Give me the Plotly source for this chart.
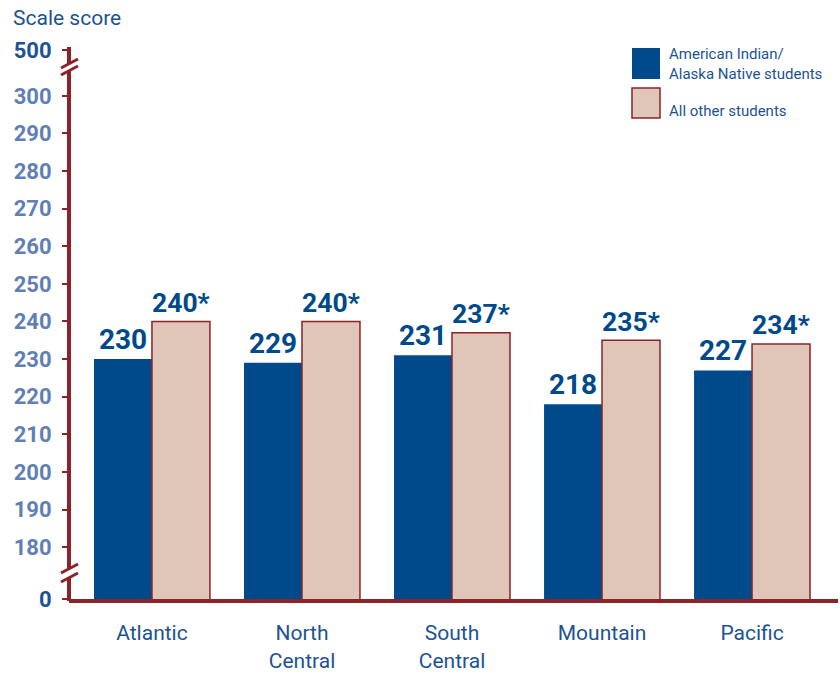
import plotly.graph_objects as go

# ---- data ----
regions = ["Atlantic", "North<br>Central", "South<br>Central", "Mountain", "Pacific"]
aian_scores = [230, 229, 231, 218, 227]
other_scores = [240, 240, 237, 235, 234]
other_significant = [True, True, True, True, True]
series_names = ["American Indian/<br>Alaska Native students", "All other students"]

# broken axis: display positions for the "0" and "500" labels
axis_bottom_display = 166.2
axis_top_display = 312.2
tick_vals = [axis_bottom_display] + list(range(180, 301, 10)) + [axis_top_display]
tick_text_vals = ["0"] + [str(v) for v in range(180, 301, 10)] + ["500"]

BLUE = "#004a8c"
BEIGE = "#e0c5b9"
RED = "#8b2328"
TEXTBLUE = "#1c5394"
LIGHTBLUE = "#5f7fb5"
FONT = "Roboto"

# geometry helpers (plot area in pixels)
L, R, T, B = 69, 838, 50, 599
W, H = R - L, B - T


def px(xp):
    return (xp - L) / W


def py(yp):
    return (B - yp) / H


tick_text = []
for t in tick_text_vals:
    c = TEXTBLUE if t in ("0", "500") else LIGHTBLUE
    tick_text.append(f"<span style='color:{c}'>{t}</span>")

fig = go.Figure()
fig.add_trace(go.Bar(
    x=regions, y=aian_scores, name=series_names[0],
    marker=dict(color=BLUE, line=dict(width=0)),
    text=[str(v) for v in aian_scores], textposition="outside",
    textfont=dict(family=FONT, size=28, color=BLUE, weight="bold"),
    cliponaxis=False, showlegend=False, hoverinfo="skip",
))
fig.add_trace(go.Bar(
    x=regions, y=other_scores, name=series_names[1],
    marker=dict(color=BEIGE, line=dict(width=1.5, color=RED)),
    text=[f"{v}{'*' if s else ''}" for v, s in zip(other_scores, other_significant)],
    textposition="outside",
    textfont=dict(family=FONT, size=28, color=BLUE, weight="bold"),
    cliponaxis=False, showlegend=False, hoverinfo="skip",
))

shapes = []
# y axis line with two breaks
ax_lw = 4
for y0, y1 in [(47, 64), (71, 568), (577, 601)]:
    shapes.append(dict(type="line", xref="paper", yref="paper",
                       x0=px(69), x1=px(69), y0=py(y0), y1=py(y1),
                       line=dict(color=RED, width=ax_lw)))
# break slashes
for (x0, y0, x1, y1) in [(61, 68, 78, 59), (61, 75, 78, 66),
                         (61, 573, 78, 564), (61, 582, 78, 573)]:
    shapes.append(dict(type="line", xref="paper", yref="paper",
                       x0=px(x0), x1=px(x1), y0=py(y0), y1=py(y1),
                       line=dict(color=RED, width=3)))
# legend swatches
shapes.append(dict(type="rect", xref="paper", yref="paper",
                   x0=px(632), x1=px(660), y0=py(79), y1=py(48),
                   fillcolor=BLUE, line=dict(width=0)))
shapes.append(dict(type="rect", xref="paper", yref="paper",
                   x0=px(632), x1=px(660), y0=py(118), y1=py(88),
                   fillcolor=BEIGE, line=dict(width=1.5, color=RED)))

annotations = [
    dict(text="Scale score", xref="paper", yref="paper", x=px(11), y=py(18),
         xanchor="left", yanchor="middle", showarrow=False,
         font=dict(family=FONT, size=21, color=TEXTBLUE)),
    dict(text=series_names[0], xref="paper", yref="paper", x=px(667), y=py(64),
         xanchor="left", yanchor="middle", showarrow=False, align="left",
         font=dict(family=FONT, size=15, color=TEXTBLUE)),
    dict(text=series_names[1], xref="paper", yref="paper", x=px(667), y=py(111),
         xanchor="left", yanchor="middle", showarrow=False, align="left",
         font=dict(family=FONT, size=15, color=TEXTBLUE)),
]

fig.update_layout(
    width=840, height=675,
    margin=dict(l=L, r=840 - R, t=T, b=675 - B),
    paper_bgcolor="white", plot_bgcolor="white",
    barmode="group", bargap=0.227, bargroupgap=0,
    shapes=shapes, annotations=annotations,
    font=dict(family=FONT), hovermode=False,
)
fig.update_xaxes(
    range=[-0.553, 4.573], showgrid=False, zeroline=False,
    showline=True, linecolor=RED, linewidth=4, ticks="",
    tickfont=dict(family=FONT, size=21, color=TEXTBLUE),
    ticklabelstandoff=12,
)
fig.update_yaxes(
    range=[axis_bottom_display, axis_top_display], showgrid=False, zeroline=False,
    showline=False, tickvals=tick_vals, ticktext=tick_text,
    ticks="outside", ticklen=6, tickwidth=2, tickcolor=RED,
    tickfont=dict(family=FONT, size=22, color=LIGHTBLUE, weight="bold"),
    ticklabelstandoff=6,
)

fig.write_html("out.html", config={"displayModeBar": False},
               post_script="document.body.style.margin='0';")
